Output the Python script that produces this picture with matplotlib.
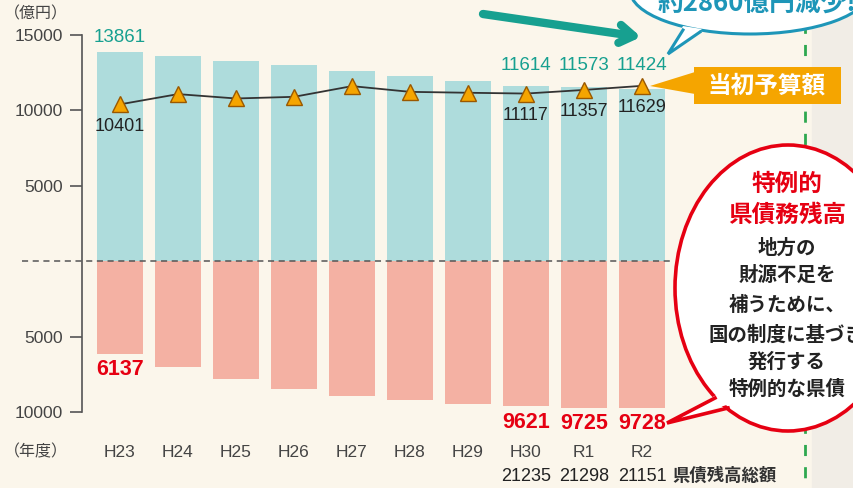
import matplotlib
matplotlib.use("Agg")
import matplotlib.pyplot as plt
from matplotlib.patches import Ellipse, Polygon, Rectangle

plt.rcParams['font.family'] = ['Liberation Sans', 'Noto Sans CJK JP', 'DejaVu Sans']

# 年度
years = ["H23", "H24", "H25", "H26", "H27", "H28", "H29", "H30", "R1", "R2"]
# 特例的な県債を除く残高（上側、億円）
upper = [13861, 13630, 13300, 13040, 12640, 12300, 11970, 11614, 11573, 11424]
# 特例的県債務残高（下側、億円）
lower = [6137, 7020, 7810, 8470, 8930, 9200, 9490, 9621, 9725, 9728]
# 当初予算額
budget = [10401, 11080, 10790, 10900, 11610, 11230, 11170, 11117, 11357, 11629]
# 県債残高総額（H30〜R2のみ表示）
total_years = ["H30", "R1", "R2"]
totals = [21235, 21298, 21151]

upper_shown = [0, 7, 8, 9]
budget_shown = [0, 7, 8, 9]
lower_shown = [0, 7, 8, 9]

BG = "#FBF6EB"
TEAL_BAR = "#AEDCDC"
SALMON = "#F4B1A3"
TEAL_TXT = "#17A090"
RED = "#E60012"
ORANGE = "#F5A500"
NARROW = ['Liberation Sans Narrow', 'Liberation Sans', 'DejaVu Sans']
JP = ['Noto Sans CJK JP', 'DejaVu Sans']

W, H = 854, 488
fig = plt.figure(figsize=(W / 100, H / 100), dpi=100, facecolor=BG)

# main axes: spine at x=82px, 15000 at y=35px, -10000 at y=412px
x0, x1 = 82, 700
ax = fig.add_axes([x0 / W, (H - 412) / H, (x1 - x0) / W, 377 / H])
ax.set_facecolor("none")
xs = list(range(len(years)))
ax.set_xlim((x0 - 120) / 58, (x1 - 120) / 58)
ax.set_ylim(-10000, 15000)

ax.bar(xs, upper, width=0.79, color=TEAL_BAR, zorder=1)
ax.bar(xs, [-v for v in lower], width=0.79, color=SALMON, zorder=1)
ax.axhline(0, xmin=(22 - x0) / (x1 - x0), xmax=(670 - x0) / (x1 - x0),
           color="#555555", lw=1.1, ls=(0, (4, 3)), clip_on=False, zorder=2)
ax.plot(xs, budget, color="#333333", lw=1.3, zorder=3, marker="^", ms=12,
        mfc=ORANGE, mec="#9A5800", mew=1.0)

for i in upper_shown:
    y = upper[i] + 950 if i == 0 else 13000
    ax.text(i, y, str(upper[i]), ha="center", va="center", color=TEAL_TXT,
            fontsize=13.5, family=NARROW)
for i in budget_shown:
    ax.text(i, budget[i] - 1450, str(budget[i]), ha="center", va="center",
            color="#222222", fontsize=13, family=NARROW)
for i in lower_shown:
    ax.text(i, -lower[i] - 1050, str(lower[i]), ha="center", va="center",
            color=RED, fontsize=15.5, fontweight="bold", family=NARROW)

for i, lab in enumerate(years):
    ax.text(i, -12700, lab, ha="center", va="center", color="#444444", fontsize=12.5)
for lab, t in zip(total_years, totals):
    ax.text(years.index(lab), -14300, str(t), ha="center", va="center",
            color="#222222", fontsize=13, family=NARROW)

ax.set_yticks([15000, 10000, 5000, -5000, -10000])
ax.set_yticklabels(["15000", "10000", "5000", "5000", "10000"])
ax.tick_params(axis="y", direction="out", length=8.5, width=1.2, color="#555555",
               labelsize=12.5, labelcolor="#444444", pad=5)
ax.set_xticks([])
for s in ["top", "right", "bottom"]:
    ax.spines[s].set_visible(False)
ax.spines["left"].set_color("#555555")
ax.spines["left"].set_linewidth(1.2)

# overlay in pixel coordinates for the decorations
ov = fig.add_axes([0, 0, 1, 1], zorder=5)
ov.set_xlim(0, W)
ov.set_ylim(H, 0)
ov.axis("off")
ov.set_facecolor("none")

ov.add_patch(Rectangle((812, 0), 42, H, color="#F1EDE6", zorder=0))
ov.plot([805, 805], [0, H], color="#2EA84F", lw=2, ls=(0, (4, 4)), zorder=1)

ov.text(36, 14, "（億円）", ha="center", va="center", color="#444444", fontsize=11.5, family=JP)
ov.text(36, 452, "（年度）", ha="center", va="center", color="#444444", fontsize=11.5, family=JP)
ov.text(672, 476, "県債残高総額", ha="left", va="center", color="#333333",
        fontsize=12.5, fontweight="bold", family=JP)

# 当初予算額 label
ov.add_patch(Rectangle((694, 67), 147, 37, color=ORANGE, lw=0, zorder=2))
ov.add_patch(Polygon([(695, 72), (650, 86), (695, 94)], closed=True, color=ORANGE, lw=0, zorder=2))
ov.text(767, 86, "当初予算額", ha="center", va="center", color="white",
        fontsize=17, fontweight="bold", family=JP, zorder=3)

# top bubble
BLUE = "#1E96B8"
ov.add_patch(Ellipse((750, -10), 240, 88, fc="white", ec=BLUE, lw=2.2, zorder=2))
ov.add_patch(Polygon([(683, 26), (668, 54), (702, 29)], closed=True, fc="white", lw=0, zorder=3))
ov.plot([683, 668, 700], [30, 54, 32], color=BLUE, lw=2.2, zorder=4, solid_joinstyle="miter")
ov.text(757, 3, "約2860億円減少!", ha="center", va="center", color=BLUE,
        fontsize=18.5, fontweight="bold", family=JP, zorder=5)

# arrow
ov.annotate("", xy=(641, 37), xytext=(483, 14), zorder=3,
            arrowprops=dict(arrowstyle="->,head_length=1.0,head_width=0.65",
                            color=TEAL_TXT, lw=6, shrinkA=0, shrinkB=0))

# red bubble
ov.add_patch(Ellipse((788, 288), 226, 286, fc="white", ec=RED, lw=2.6, zorder=2))
ov.add_patch(Polygon([(718, 394), (667, 423), (730, 404)], closed=True, fc="white", lw=0, zorder=3))
ov.plot([715, 667, 728], [398, 423, 408], color=RED, lw=2.6, zorder=4, solid_joinstyle="miter")
for txt, y in [("特例的", 184), ("県債務残高", 215)]:
    ov.text(787, y, txt, ha="center", va="center", color=RED, fontsize=17,
            fontweight="bold", family=JP, zorder=5)
for txt, y in [("地方の", 248), ("財源不足を", 275), ("補うために、", 305),
               ("国の制度に基づき", 335), ("発行する", 362), ("特例的な県債", 389)]:
    ov.text(787, y, txt, ha="center", va="center", color="#222222", fontsize=14,
            fontweight="bold", family=JP, zorder=5)

fig.savefig("out.png", dpi=100, facecolor=BG)
